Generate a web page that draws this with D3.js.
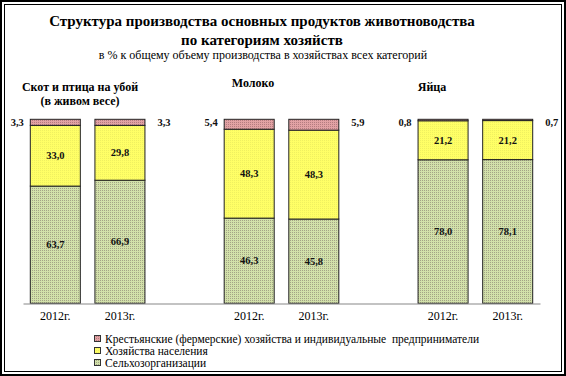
<!DOCTYPE html>
<html><head><meta charset="utf-8">
<script src="https://cdn.jsdelivr.net/npm/d3@7"></script>
<style>html,body{margin:0;padding:0;background:#fff}svg{display:block}
svg text{font-family:"Liberation Serif","DejaVu Serif","Times New Roman",serif !important;}</style>
</head><body>
<script>
// ---- data ----
const slots = ["g1-2012","g1-2013","gap1","g2-2012","g2-2013","gap2","g3-2012","g3-2013"];
const slotLabels = ["2012г.","2013г.","","2012г.","2013г.","","2012г.","2013г."];
const barSlots = ["g1-2012","g1-2013","g2-2012","g2-2013","g3-2012","g3-2013"];
const selkhozorg = [63.7, 66.9, 46.3, 45.8, 78.0, 78.1];
const naselenie  = [33.0, 29.8, 48.3, 48.3, 21.2, 21.2];
const fermer     = [3.3, 3.3, 5.4, 5.9, 0.8, 0.7];
const seriesNames = ["Крестьянские (фермерские) хозяйства и индивидуальные  предприниматели","Хозяйства населения","Сельхозорганизации"];
const groupTitles = [["Скот и птица на убой","(в живом весе)"],["Молоко"],["Яйца"]];
const titleLines = ["Структура производства основных продуктов животноводства","по категориям хозяйств"];
const subtitle = "в % к общему объему производства в хозяйствах всех категорий";

const W=566,H=376;
const svg=d3.select("body").append("svg").attr("width",W).attr("height",H);

const defs=svg.append("defs");
function pat(id,bg,dot){
  const p=defs.append("pattern").attr("id",id).attr("width",2).attr("height",2).attr("patternUnits","userSpaceOnUse");
  p.append("rect").attr("width",2).attr("height",2).attr("fill",bg);
  p.append("rect").attr("width",1).attr("height",1).attr("fill",dot);
}
pat("pGreen","#d2e1aa","#a4a486");
pat("pPink","#e2a2a4","#b47c80");
pat("pYellow","#ffff66","#f0f060");

// frame
svg.append("rect").attr("x",1).attr("y",1).attr("width",W-2).attr("height",H-2).attr("fill","none").attr("stroke","#000").attr("stroke-width",2);
svg.append("rect").attr("x",4.5).attr("y",4.5).attr("width",W-9).attr("height",H-9).attr("fill","none").attr("stroke","#000").attr("stroke-width",1);

// titles
svg.selectAll("text.t").data(titleLines).join("text").attr("class","t")
  .attr("x",262).attr("y",(d,i)=>26+i*19).attr("text-anchor","middle")
  .attr("font-size",15).attr("font-weight","bold").text(d=>d);
svg.append("text").attr("x",263).attr("y",59).attr("text-anchor","middle").attr("font-size",12).text(subtitle);

// scales
const x=d3.scaleBand().domain(slots).range([23,540]).paddingInner(0.226).paddingOuter(0.113);
const y=d3.scaleLinear().domain([0,100]).range([303.3,119.3]);

// stacked data
const rows=barSlots.map((s,i)=>({slot:s,selkhoz:selkhozorg[i],nasel:naselenie[i],fermer:fermer[i]}));
const keys=["selkhoz","nasel","fermer"];
const fills={selkhoz:"url(#pGreen)",nasel:"url(#pYellow)",fermer:"url(#pPink)"};
const stack=d3.stack().keys(keys)(rows);

const g=svg.append("g");
stack.forEach(layer=>{
  g.selectAll(null).data(layer).join("rect")
    .attr("x",d=>x(d.data.slot)).attr("width",x.bandwidth())
    .attr("y",d=>y(d[1])).attr("height",d=>y(d[0])-y(d[1]))
    .attr("fill",fills[layer.key]).attr("stroke","#222").attr("stroke-width",1);
});

// inner labels
const fmt=v=>v.toFixed(1).replace(".",",");
stack.slice(0,2).forEach(layer=>{
  g.selectAll(null).data(layer).join("text")
    .attr("x",d=>x(d.data.slot)+x.bandwidth()/2).attr("y",d=>(y(d[0])+y(d[1]))/2+3.5)
    .attr("text-anchor","middle").attr("font-size",10.5).attr("font-weight","bold").attr("fill","#111")
    .text(d=>fmt(d[1]-d[0]));
});
// outside labels for top segment
stack[2].forEach((d,i)=>{
  const left=i%2===0;
  const xx=left? x(d.data.slot)-13 : x(d.data.slot)+x.bandwidth()+19;
  g.append("text").attr("x",xx).attr("y",y(d[1])+7).attr("text-anchor","middle")
    .attr("font-size",10.5).attr("font-weight","bold").attr("fill","#111").text(fmt(d[1]-d[0]));
});

// axis
const ax=svg.append("g").attr("transform","translate(0,303.5)")
  .call(d3.axisBottom(x).tickSize(0).tickFormat((d,i)=>slotLabels[i]));
ax.select(".domain").attr("stroke","#888").attr("stroke-width",1.2);
ax.selectAll("text").attr("font-size",12).attr("fill","#000").attr("dy","1.15em");

// group titles
const groupCenters=[80,253,432];
const groupY=[91,87,91];
groupTitles.forEach((lines,gi)=>{
  lines.forEach((l,li)=>{
    svg.append("text").attr("x",groupCenters[gi]).attr("y",groupY[gi]+li*14).attr("text-anchor","middle")
      .attr("font-size",12).attr("font-weight","bold").text(l);
  });
});

// legend
const legFills=["url(#pPink)","url(#pYellow)","url(#pGreen)"];
const leg=svg.append("g");
seriesNames.forEach((n,i)=>{
  const yy=339+i*12;
  leg.append("rect").attr("x",94.5).attr("y",yy-3.5).attr("width",6).attr("height",6)
    .attr("fill",legFills[i]).attr("stroke","#333").attr("stroke-width",1);
  leg.append("text").attr("x",105).attr("y",yy+4).attr("font-size",11.5).attr("xml:space","preserve").text(n);
});
</script>
</body></html>
